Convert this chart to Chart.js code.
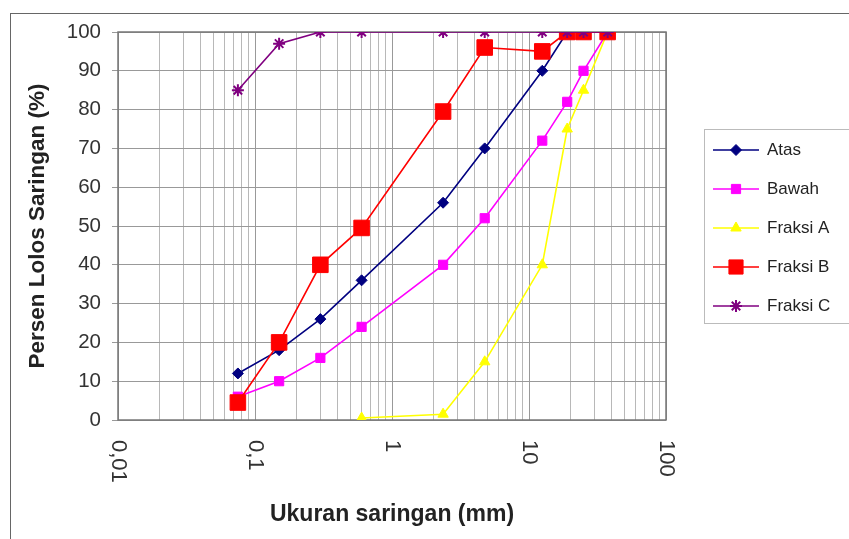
<!DOCTYPE html>
<html lang="id">
<head>
    <meta charset="UTF-8">
    <title>Gradasi Saringan</title>
    <script src="https://cdn.jsdelivr.net/npm/chart.js"></script>
    <style>
        * { margin: 0; padding: 0; box-sizing: border-box; }
        body {
            width: 849px;
            height: 539px;
            overflow: hidden;
            background: #fff;
            position: relative;
            font-family: 'Liberation Sans', Arial, sans-serif;
        }
        .frame {
            position: absolute;
            left: 10px;
            top: 13px;
            width: 900px;
            height: 600px;
            border: 1px solid #666;
        }
        #chart {
            position: absolute;
            left: 0;
            top: 0;
        }
    </style>
</head>
<body>
    <div class="frame"></div>
    <canvas id="chart" width="849" height="539"></canvas>

    <script>
        // sieve sizes (mm) and percent passing per gradation
        const sieveSizes = [0.075, 0.15, 0.3, 0.6, 2.36, 4.75, 12.5, 19, 25, 37.5];
        const atas     = [12, 18, 26, 36, 56, 70, 90, 100, 100, 100];
        const bawah    = [6, 10, 16, 24, 40, 52, 72, 82, 90, 100];
        const fraksiA  = [null, null, null, 0.5, 1.5, 15, 40, 75, 85, 100];
        const fraksiB  = [4.5, 20, 40, 49.5, 79.5, 96, 95, 100, 100, 100];
        const fraksiC  = [85, 97, 100, 100, 100, 100, 100, 100, 100, 100];

        const xTickValues = [0.01, 0.1, 1, 10, 100];
        const xTickLabels = ['0,01', '0,1', '1', '10', '100'];

        const seriesNames = ['Atas', 'Bawah', 'Fraksi A', 'Fraksi B', 'Fraksi C'];

        const toPoints = arr => sieveSizes
            .map((x, i) => ({ x: x, y: arr[i] }))
            .filter(p => p.y !== null);

        const AREA = { left: 118, right: 666, top: 32, bottom: 420 };
        const PAD = { left: 20, top: 32, right: 849 - AREA.right, bottom: 8 };
        const FONT = '"Liberation Sans", Arial, sans-serif';

        const datasets = [
            { label: seriesNames[0], data: toPoints(atas), color: '#000080', pointStyle: 'rectRot', pointRadius: 5.5, order: 4 },
            { label: seriesNames[1], data: toPoints(bawah), color: '#ff00ff', pointStyle: 'rect', pointRadius: 6.5, order: 3 },
            { label: seriesNames[2], data: toPoints(fraksiA), color: '#ffff00', pointStyle: 'triangle', pointRadius: 6, order: 2 },
            { label: seriesNames[3], data: toPoints(fraksiB), color: '#ff0000', pointStyle: 'rect', pointRadius: 11, order: 1 },
            { label: seriesNames[4], data: toPoints(fraksiC), color: '#800080', pointStyle: 'star', pointRadius: 6, order: 0 }
        ].map(d => ({
            label: d.label,
            data: d.data,
            order: d.order,
            borderColor: d.color,
            backgroundColor: d.color,
            pointBackgroundColor: d.color,
            pointBorderColor: d.color,
            pointStyle: d.pointStyle,
            pointRadius: d.pointRadius,
            pointHoverRadius: d.pointRadius,
            pointBorderWidth: d.pointStyle === 'star' ? 2 : 1,
            borderWidth: 1.6,
            tension: 0,
            fill: false
        }));

        // plot border, drawn under the lines
        const plotBorder = {
            id: 'plotBorder',
            beforeDatasetsDraw(chart) {
                const a = chart.chartArea;
                const ctx = chart.ctx;
                ctx.save();
                ctx.strokeStyle = '#777';
                ctx.lineWidth = 1.5;
                ctx.strokeRect(a.left, a.top, a.right - a.left, a.bottom - a.top);
                ctx.restore();
            }
        };

        // x labels read top to bottom, like the original spreadsheet chart
        const rotatedXLabels = {
            id: 'rotatedXLabels',
            afterDraw(chart) {
                const ctx = chart.ctx;
                const xs = chart.scales.x;
                ctx.save();
                ctx.font = '22px ' + FONT;
                ctx.fillStyle = '#333';
                ctx.textAlign = 'left';
                ctx.textBaseline = 'middle';
                xTickValues.forEach((v, i) => {
                    const px = xs.getPixelForValue(v);
                    ctx.save();
                    ctx.translate(px, chart.chartArea.bottom + 20);
                    ctx.rotate(Math.PI / 2);
                    ctx.fillText(xTickLabels[i], 0, 0);
                    ctx.restore();
                });
                ctx.restore();
            }
        };

        // boxed legend on the right, line + marker per series
        const boxLegend = {
            id: 'boxLegend',
            afterDraw(chart) {
                const ctx = chart.ctx;
                const left = 704, top = 129, rowGap = 39, firstRow = 150;
                ctx.save();
                ctx.strokeStyle = '#bbb';
                ctx.lineWidth = 1;
                ctx.strokeRect(left + 0.5, top + 0.5, 200, 194);
                ctx.font = '17px ' + FONT;
                ctx.textBaseline = 'middle';
                chart.data.datasets.forEach((ds, i) => {
                    const y = firstRow + i * rowGap;
                    ctx.strokeStyle = ds.borderColor;
                    ctx.lineWidth = 1.6;
                    ctx.beginPath();
                    ctx.moveTo(713, y);
                    ctx.lineTo(759, y);
                    ctx.stroke();
                    ctx.fillStyle = ds.pointBackgroundColor;
                    ctx.strokeStyle = ds.pointBorderColor;
                    ctx.lineWidth = ds.pointBorderWidth;
                    Chart.helpers.drawPoint(ctx, {
                        pointStyle: ds.pointStyle,
                        radius: ds.pointStyle === 'rect' && ds.pointRadius > 8 ? 10 : ds.pointRadius,
                        rotation: 0,
                        borderWidth: ds.pointBorderWidth
                    }, 736, y);
                    ctx.fillStyle = '#222';
                    ctx.fillText(ds.label, 767, y);
                });
                ctx.restore();
            }
        };

        new Chart(document.getElementById('chart'), {
            type: 'line',
            data: { datasets: datasets },
            plugins: [plotBorder, rotatedXLabels, boxLegend],
            options: {
                responsive: false,
                animation: false,
                layout: { padding: PAD },
                plugins: {
                    legend: { display: false },
                    tooltip: { enabled: false }
                },
                scales: {
                    x: {
                        type: 'logarithmic',
                        min: 0.01,
                        max: 100,
                        afterFit(scale) {
                            scale.height = 539 - PAD.bottom - AREA.bottom;
                        },
                        afterBuildTicks(scale) {
                            const ticks = [];
                            for (let d = -2; d < 2; d++) {
                                for (let m = 1; m < 10; m++) {
                                    ticks.push({ value: m * Math.pow(10, d), major: m === 1 });
                                }
                            }
                            ticks.push({ value: 100, major: true });
                            scale.ticks = ticks;
                        },
                        ticks: { display: false, autoSkip: false },
                        grid: {
                            color: ctx => (ctx.tick && ctx.tick.major) ? '#999' : '#b8b8b8',
                            lineWidth: 1,
                            drawTicks: false
                        },
                        border: { display: false },
                        title: {
                            display: true,
                            text: 'Ukuran saringan (mm)',
                            color: '#222',
                            font: { family: FONT, size: 23, weight: 'bold' },
                            padding: { top: 0, bottom: 3 }
                        }
                    },
                    y: {
                        min: 0,
                        max: 100,
                        afterFit(scale) {
                            scale.width = AREA.left - PAD.left;
                        },
                        ticks: {
                            stepSize: 10,
                            color: '#333',
                            padding: 11,
                            font: { family: FONT, size: 20.5 }
                        },
                        grid: {
                            color: '#999',
                            lineWidth: 1,
                            tickLength: 6
                        },
                        border: { display: false },
                        title: {
                            display: true,
                            text: 'Persen Lolos Saringan (%)',
                            color: '#222',
                            font: { family: FONT, size: 22.5, weight: 'bold' },
                            padding: { top: 4, bottom: 0 }
                        }
                    }
                }
            }
        });
    </script>
</body>
</html>
